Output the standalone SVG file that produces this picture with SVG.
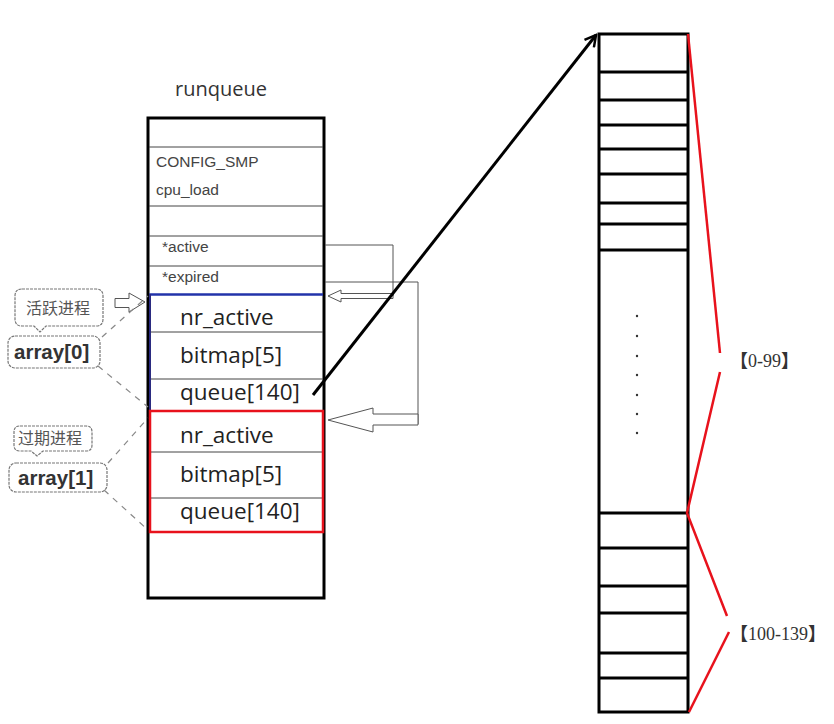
<svg xmlns="http://www.w3.org/2000/svg" width="834" height="724" viewBox="0 0 834 724">
<defs>
<style>
.sm{font-family:"Liberation Sans","Noto Sans",sans-serif;font-size:15.5px;fill:#444}
.big{font-family:"Open Sans","Liberation Sans",sans-serif;font-size:22.5px;fill:#222}
.ttl{font-family:"Open Sans","Liberation Sans",sans-serif;font-size:20px;fill:#333}
.cn{font-family:"Noto Sans CJK SC",sans-serif;font-size:16px;fill:#555}
.arr{font-family:"Liberation Sans","Noto Sans",sans-serif;font-size:20.5px;font-weight:bold;fill:#333}
.rng{font-family:"Liberation Serif",serif;font-size:18px;fill:#333}
.br{font-family:"Noto Sans CJK SC",sans-serif;font-weight:bold}
.thin{stroke:#555;stroke-width:1;fill:none}
.bub{stroke:#777;stroke-width:1.2;fill:#fff;stroke-dasharray:3 1}
.dash{stroke:#888;stroke-width:1.2;stroke-dasharray:6 6;fill:none}
.hol{stroke:#555;stroke-width:1;fill:#fff}
.red{stroke:#e8121c;stroke-width:2.5;fill:none}
</style>
<marker id="open" markerWidth="14" markerHeight="14" refX="12" refY="7" orient="auto" markerUnits="userSpaceOnUse">
<polyline points="1,1 12,7 1,13" fill="none" stroke="#000" stroke-width="2.5"/>
</marker>
</defs>
<rect width="834" height="724" fill="#fff"/>

<g id="runqueue">
<text class="ttl" x="175" y="96">runqueue</text>
<rect x="148" y="118" width="176" height="480" fill="#fff" stroke="#000" stroke-width="3"/>
<g stroke="#444" stroke-width="1">
<line x1="149" y1="147" x2="323" y2="147"/>
<line x1="149" y1="206" x2="323" y2="206"/>
<line x1="149" y1="236" x2="323" y2="236"/>
<line x1="149" y1="266" x2="323" y2="266"/>
<line x1="149" y1="332" x2="323" y2="332"/>
<line x1="149" y1="379" x2="323" y2="379"/>
<line x1="149" y1="452" x2="323" y2="452"/>
<line x1="149" y1="498" x2="323" y2="498"/>
</g>
<text class="sm" x="156" y="167">CONFIG_SMP</text>
<text class="sm" x="156" y="195">cpu_load</text>
<text class="sm" x="162" y="252" font-size="15">*active</text>
<text class="sm" x="162" y="282" font-size="15">*expired</text>
<line x1="149" y1="294.5" x2="323" y2="294.5" stroke="#2233aa" stroke-width="2.5"/>
<line x1="150" y1="294" x2="150" y2="411" stroke="#2a2a80" stroke-width="2"/>
<text class="big" x="180" y="325">nr_active</text>
<text class="big" x="180" y="363">bitmap[5]</text>
<text class="big" x="180" y="400">queue[140]</text>
<rect x="150" y="411" width="173" height="121" class="red" stroke-width="3"/>
<text class="big" x="180" y="443">nr_active</text>
<text class="big" x="180" y="482">bitmap[5]</text>
<text class="big" x="180" y="519">queue[140]</text>
</g>

<g id="label-active">
<path class="bub" d="M22,289 H96 Q103,289 103,296 V319 Q103,326 96,326 H46 L40,332 L34,326 H22 Q15,326 15,319 V296 Q15,289 22,289 Z"/>
<text class="cn" x="26" y="314">活跃进程</text>
<rect class="bub" x="8" y="336" width="92" height="32" rx="7"/>
<text class="arr" x="14" y="359">array[0]</text>
</g>

<g id="label-expired">
<path class="bub" d="M20,426 H86 Q92,426 92,432 V445 Q92,451 86,451 H43 L37,456 L31,451 H20 Q14,451 14,445 V432 Q14,426 20,426 Z"/>
<text class="cn" x="18" y="444">过期进程</text>
<rect class="bub" x="9" y="463" width="98" height="29" rx="7"/>
<text class="arr" x="18" y="485">array[1]</text>
</g>

<g id="priority-array">
<rect x="599" y="34" width="89" height="678" fill="#fff" stroke="#000" stroke-width="3"/>
<g stroke="#000" stroke-width="3">
<line x1="599" y1="72" x2="688" y2="72"/>
<line x1="599" y1="100" x2="688" y2="100"/>
<line x1="599" y1="125" x2="688" y2="125"/>
<line x1="599" y1="149" x2="688" y2="149"/>
<line x1="599" y1="174" x2="688" y2="174"/>
<line x1="599" y1="203" x2="688" y2="203"/>
<line x1="599" y1="224" x2="688" y2="224"/>
<line x1="599" y1="250" x2="688" y2="250"/>
<line x1="599" y1="513" x2="688" y2="513"/>
<line x1="599" y1="548" x2="688" y2="548"/>
<line x1="599" y1="586" x2="688" y2="586"/>
<line x1="599" y1="613" x2="688" y2="613"/>
<line x1="599" y1="653" x2="688" y2="653"/>
<line x1="599" y1="678" x2="688" y2="678"/>
</g>
<g fill="#333">
<circle cx="637" cy="316" r="1.2"/>
<circle cx="637" cy="336" r="1.2"/>
<circle cx="637" cy="356" r="1.2"/>
<circle cx="637" cy="375" r="1.2"/>
<circle cx="637" cy="395" r="1.2"/>
<circle cx="637" cy="414" r="1.2"/>
<circle cx="637" cy="433" r="1.2"/>
</g>
<text class="rng" x="730" y="367"><tspan class="br">【</tspan>0-99<tspan class="br">】</tspan></text>
<text class="rng" x="730" y="640"><tspan class="br">【</tspan>100-139<tspan class="br">】</tspan></text>
</g>

<g id="connectors">
<polyline class="thin" points="325,245 393,245 393,296"/>
<polyline class="thin" points="325,282 418,282 418,424"/>
<polygon class="hol" points="328,296 341,290 341,293.5 393,293.5 393,298.5 341,298.5 341,302"/>
<polygon class="hol" points="328,420 373,408 373,414 418,414 418,425 373,425 373,432"/>
<polygon class="hol" points="115,298.5 129,298.5 129,293 145,302 129,312 129,307.5 115,307.5"/>
<line class="dash" x1="102" y1="337" x2="148" y2="296"/>
<line class="dash" x1="98" y1="366" x2="148" y2="407"/>
<line class="dash" x1="108" y1="463" x2="148" y2="418"/>
<line class="dash" x1="104" y1="490" x2="148" y2="530"/>
<line x1="313" y1="395" x2="596" y2="35" stroke="#000" stroke-width="3" marker-end="url(#open)"/>
<polyline class="red" points="688,34 720,353"/>
<polyline class="red" points="720,372 687,513 727,616"/>
<polyline class="red" points="729,632 689,712"/>
</g>
</svg>
